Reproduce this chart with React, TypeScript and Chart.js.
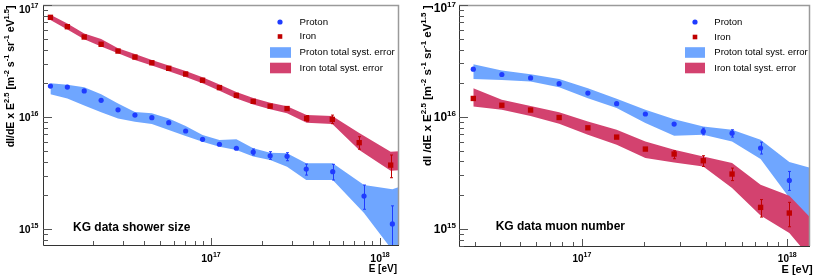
import React, { useEffect, useRef } from "react";
import { Chart, registerables } from "chart.js";
Chart.register(...registerables);

// ---------------- Left panel: KG data shower size ----------------
const L_PROTON_E = [1.122e16, 1.413e16, 1.778e16, 2.239e16, 2.818e16, 3.548e16, 4.467e16, 5.623e16, 7.079e16, 8.913e16, 1.122e17, 1.413e17, 1.778e17, 2.239e17, 2.818e17, 3.66e17, 5.25e17, 8.04e17, 1.183e18];
const L_PROTON_F = [1.89e16, 1.85e16, 1.71e16, 1.41e16, 1.16e16, 1.04e16, 9.86e15, 8.9e15, 7.5e15, 6.32e15, 5.71e15, 5.26e15, 4.87e15, 4.51e15, 4.46e15, 3.43e15, 3.25e15, 1.97e15, 1.11e15];
const L_PROTON_ERR_HI = [null, null, null, null, null, null, null, null, null, null, null, null, 5.18e15, 4.9e15, 4.8e15, 3.8e15, 3.78e15, 2.47e15, 1.61e15];
const L_PROTON_ERR_LO = [null, null, null, null, null, null, null, null, null, null, null, null, 4.58e15, 4.19e15, 4.07e15, 3.03e15, 2.74e15, 1.5e15, 6.5e14];

const L_IRON_E = [1.122e16, 1.413e16, 1.778e16, 2.239e16, 2.818e16, 3.548e16, 4.467e16, 5.623e16, 7.079e16, 8.913e16, 1.122e17, 1.413e17, 1.778e17, 2.239e17, 2.818e17, 3.68e17, 5.22e17, 7.53e17, 1.156e18];
const L_IRON_F = [7.76e16, 6.4e16, 5.18e16, 4.46e16, 3.88e16, 3.43e16, 3.05e16, 2.72e16, 2.42e16, 2.13e16, 1.83e16, 1.56e16, 1.38e16, 1.25e16, 1.19e16, 9.73e15, 9.53e15, 5.9e15, 3.72e15];
const L_IRON_ERR_HI = [null, null, null, null, null, null, null, null, null, null, null, null, null, null, null, 1.03e16, 1.04e16, 6.67e15, 4.58e15];
const L_IRON_ERR_LO = [null, null, null, null, null, null, null, null, null, null, null, null, null, null, null, 9.17e15, 8.72e15, 5.16e15, 2.87e15];

const L_PROTON_BAND_E = [1.122e16, 1.413e16, 1.778e16, 2.239e16, 2.818e16, 3.548e16, 4.467e16, 5.623e16, 7.079e16, 8.913e16, 1.122e17, 1.413e17, 1.778e17, 2.239e17, 2.818e17, 3.66e17, 5.25e17, 8.04e17, 1.183e18, 1.585e18];
const L_PROTON_BAND_UP = [2.0e16, 1.94e16, 1.84e16, 1.6e16, 1.32e16, 1.11e16, 1.08e16, 9.72e15, 8.32e15, 6.9e15, 6.24e15, 6.32e15, 5.25e15, 4.8e15, 4.74e15, 3.86e15, 3.86e15, 2.47e15, 2.26e15, 2.63e15];
const L_PROTON_BAND_LO = [1.6e16, 1.46e16, 1.27e16, 1.1e16, 9.72e15, 9.08e15, 8.67e15, 7.66e15, 6.76e15, 6.01e15, 5.43e15, 5.07e15, 4.43e15, 4.13e15, 3.6e15, 2.74e15, 2.74e15, 1.39e15, 6.46e14, 5.25e14];

const L_IRON_BAND_E = [1.122e16, 1.413e16, 1.778e16, 2.239e16, 2.818e16, 3.548e16, 4.467e16, 5.623e16, 7.079e16, 8.913e16, 1.122e17, 1.413e17, 1.778e17, 2.239e17, 2.818e17, 3.68e17, 5.22e17, 7.53e17, 1.156e18, 1.585e18];
const L_IRON_BAND_UP = [8.18e16, 6.84e16, 5.58e16, 4.97e16, 4.1e16, 3.66e16, 3.23e16, 2.88e16, 2.58e16, 2.26e16, 1.95e16, 1.67e16, 1.48e16, 1.34e16, 1.25e16, 1.04e16, 1.02e16, 7.19e15, 4.9e15, 5.01e15];
const L_IRON_BAND_LO = [7.35e16, 6.04e16, 4.94e16, 4.25e16, 3.71e16, 3.23e16, 2.88e16, 2.56e16, 2.28e16, 2.0e16, 1.72e16, 1.46e16, 1.29e16, 1.17e16, 1.08e16, 8.89e15, 8.67e15, 5.07e15, 3.32e15, 3.39e15];

// ---------------- Right panel: KG data muon number ----------------
const R_E = [2.958e16, 4.074e16, 5.623e16, 7.745e16, 1.069e17, 1.476e17, 2.037e17, 2.812e17, 3.899e17, 5.383e17, 7.413e17, 1.023e18];
const R_PROTON_F = [2.67e16, 2.39e16, 2.23e16, 1.98e16, 1.63e16, 1.31e16, 1.06e16, 8.61e15, 7.4e15, 7.15e15, 5.26e15, 2.7e15];
const R_PROTON_ERR_HI = [null, null, null, null, null, null, null, null, 7.92e15, 7.66e15, 5.94e15, 3.25e15];
const R_PROTON_ERR_LO = [null, null, null, null, null, null, null, null, 6.9e15, 6.59e15, 4.65e15, 2.2e15];
const R_IRON_F = [1.46e16, 1.27e16, 1.15e16, 9.86e15, 7.98e15, 6.59e15, 5.15e15, 4.65e15, 4.05e15, 3.08e15, 1.55e15, 1.38e15];
const R_IRON_ERR_HI = [null, null, null, null, null, null, null, 4.97e15, 4.49e15, 3.48e15, 1.82e15, 1.72e15];
const R_IRON_ERR_LO = [null, null, null, null, null, null, null, 4.22e15, 3.6e15, 2.69e15, 1.27e15, 1.04e15];

const R_BAND_E = [2.958e16, 4.074e16, 5.623e16, 7.745e16, 1.069e17, 1.476e17, 2.037e17, 2.812e17, 3.899e17, 5.383e17, 7.413e17, 1.023e18, 1.585e18];
const R_PROTON_BAND_UP = [2.96e16, 2.59e16, 2.4e16, 2.18e16, 1.8e16, 1.45e16, 1.16e16, 9.53e15, 8.19e15, 7.66e15, 6.24e15, 3.94e15, 3.15e15];
const R_PROTON_BAND_LO = [2.18e16, 2.14e16, 2.07e16, 1.84e16, 1.47e16, 1.2e16, 8.79e15, 6.76e15, 6.9e15, 6.01e15, 4.19e15, 1.89e15, 5.28e14];
const R_IRON_BAND_UP = [1.8e16, 1.42e16, 1.25e16, 1.1e16, 9.08e15, 7.66e15, 6.01e15, 5.07e15, 4.43e15, 3.86e15, 2.47e15, 1.97e15, 8.57e14];
const R_IRON_BAND_LO = [1.24e16, 1.16e16, 1.02e16, 8.67e15, 6.9e15, 5.62e15, 4.28e15, 3.91e15, 3.6e15, 2.31e15, 1.31e15, 9.17e14, 3.51e14];

// ---------------- Axes ----------------
const L_X_RANGE = [1.014e16, 1.295e18];
const R_X_RANGE = [2.52e16, 1.29e18];
const L_Y_RANGE = [7.2e14, 1e17];
const R_Y_RANGE = [7.0e14, 1e17];
const X_DECADE_LABELS = [17, 18];
const Y_DECADE_LABELS = [15, 16, 17];

const LEGEND_LABELS = ["Proton", "Iron", "Proton total syst. error", "Iron total syst. error"];
const L_PANEL_TEXT = "KG data shower size";
const R_PANEL_TEXT = "KG data muon number";
const L_Y_TITLE = [
  { t: "dI/dE x E" }, { t: "2.5", sup: true }, { t: " [m" }, { t: "-2", sup: true },
  { t: " s" }, { t: "-1", sup: true }, { t: " sr" }, { t: "-1", sup: true },
  { t: " eV" }, { t: "1.5", sup: true }, { t: "]" },
];
const R_Y_TITLE = [
  { t: "dI /dE x E" }, { t: "2.5", sup: true }, { t: " [m" }, { t: "-2", sup: true },
  { t: " s" }, { t: "-1", sup: true }, { t: " sr" }, { t: "-1", sup: true },
  { t: " eV" }, { t: "1.5", sup: true }, { t: " ]" },
];
const X_TITLE = "E [eV]";

const FONT = "'Liberation Sans', Arial, Helvetica, sans-serif";
const PROTON_COLOR = "#1f3cff";
const IRON_COLOR = "#c00000";
const PROTON_BAND = "#6fa6ff";
const IRON_BAND = "#d3426f";

type Seg = { t: string; sup?: boolean };

function richWidth(ctx: CanvasRenderingContext2D, segs: Seg[], size: number, sup: number) {
  let w = 0;
  for (const s of segs) {
    ctx.font = `bold ${s.sup ? sup : size}px ${FONT}`;
    w += ctx.measureText(s.t).width;
  }
  return w;
}
function drawRich(ctx: CanvasRenderingContext2D, segs: Seg[], x: number, y: number, size: number, sup: number, rise: number) {
  let cx = x;
  ctx.textBaseline = "alphabetic";
  ctx.textAlign = "left";
  for (const s of segs) {
    ctx.font = `bold ${s.sup ? sup : size}px ${FONT}`;
    ctx.fillText(s.t, cx, s.sup ? y - rise : y);
    cx += ctx.measureText(s.t).width;
  }
}

type PanelCfg = {
  xRange: number[]; yRange: number[];
  padding: { left: number; right: number; top: number; bottom: number };
  protonE: number[]; protonF: number[]; protonHi: (number | null)[]; protonLo: (number | null)[];
  ironE: number[]; ironF: number[]; ironHi: (number | null)[]; ironLo: (number | null)[];
  pBandE: number[]; pBandUp: number[]; pBandLo: number[];
  iBandE: number[]; iBandUp: number[]; iBandLo: number[];
  yTitle: Seg[]; yTitleSize: number; yTitleSup: number; yTitleX: number;
  yLabSize: number; yLabSup: number; yLabRight: number; yLabMinCenter: number;
  xLabSize: number; xLabSup: number; xLabBase: number;
  xTitleSize: number; xTitleRight: number; xTitleBase: number;
  legend: { mx: number; bx: number; bw: number; tx: number; rows: number[]; size: number };
  text: string; textX: number; textY: number;
};

function pts(xs: number[], ys: number[]) {
  return xs.map((x, i) => ({ x, y: ys[i] }));
}

function makeDeco(p: PanelCfg) {
  const drawErrors = (chart: any) => {
    const ctx: CanvasRenderingContext2D = chart.ctx;
    const { left, right, top, bottom } = chart.chartArea;
    const xs = chart.scales.x, ys = chart.scales.y;
    ctx.save();
    ctx.beginPath();
    ctx.rect(left, top, right - left, bottom - top);
    ctx.clip();
    const one = (E: number[], hi: (number | null)[], lo: (number | null)[], color: string) => {
      ctx.strokeStyle = color;
      ctx.lineWidth = 1;
      E.forEach((e, i) => {
        const h = hi[i], l = lo[i];
        if (h == null || l == null) return;
        const x = Math.round(xs.getPixelForValue(e)) + 0.5;
        const y1 = ys.getPixelForValue(h), y2 = ys.getPixelForValue(l);
        ctx.beginPath();
        ctx.moveTo(x, y1); ctx.lineTo(x, y2);
        ctx.moveTo(x - 1.5, y1); ctx.lineTo(x + 1.5, y1);
        ctx.moveTo(x - 1.5, y2); ctx.lineTo(x + 1.5, y2);
        ctx.stroke();
      });
    };
    one(p.ironE, p.ironHi, p.ironLo, IRON_COLOR);
    one(p.protonE, p.protonHi, p.protonLo, PROTON_COLOR);
    ctx.restore();
  };
  return {
    id: "deco",
    beforeDatasetDraw(chart: any, args: any) {
      if (args.index === 1) drawErrors(chart);
    },
    afterDraw(chart: any) {
      const ctx: CanvasRenderingContext2D = chart.ctx;
      const { left, right, top, bottom } = chart.chartArea;
      const xs = chart.scales.x, ys = chart.scales.y;
      ctx.save();
      // frame
      ctx.strokeStyle = "#9a9a9a";
      ctx.lineWidth = 1.5;
      ctx.beginPath();
      ctx.moveTo(left, top + 0.5); ctx.lineTo(right - 0.5, top + 0.5); ctx.lineTo(right - 0.5, bottom);
      ctx.stroke();
      ctx.strokeStyle = "#333";
      ctx.lineWidth = 1;
      ctx.beginPath();
      ctx.moveTo(left + 0.5, top); ctx.lineTo(left + 0.5, bottom + 0.5); ctx.lineTo(right, bottom + 0.5);
      ctx.stroke();
      // ticks
      ctx.strokeStyle = "#555";
      ctx.beginPath();
      for (let d = 14; d <= 18; d++) {
        for (let m = 1; m <= 9; m++) {
          const v = m * Math.pow(10, d);
          if (v >= p.yRange[0] && v <= p.yRange[1] * 1.0001) {
            const y = Math.round(ys.getPixelForValue(v)) + 0.5;
            ctx.moveTo(left, y); ctx.lineTo(left + (m === 1 ? 9 : 5), y);
          }
          if (v >= p.xRange[0] && v <= p.xRange[1]) {
            const x = Math.round(xs.getPixelForValue(v)) + 0.5;
            ctx.moveTo(x, bottom); ctx.lineTo(x, bottom - (m === 1 ? 7 : 4));
          }
        }
      }
      ctx.stroke();
      ctx.fillStyle = "#000";
      // y labels
      for (const d of Y_DECADE_LABELS) {
        const segs = [{ t: "10" }, { t: String(d), sup: true }];
        const w = richWidth(ctx, segs, p.yLabSize, p.yLabSup);
        const cy = Math.max(ys.getPixelForValue(Math.pow(10, d)), p.yLabMinCenter);
        drawRich(ctx, segs, p.yLabRight - w, cy + p.yLabSize * 0.36, p.yLabSize, p.yLabSup, p.yLabSize * 0.42);
      }
      // x labels
      for (const d of X_DECADE_LABELS) {
        const segs = [{ t: "10" }, { t: String(d), sup: true }];
        const w = richWidth(ctx, segs, p.xLabSize, p.xLabSup);
        const cx = xs.getPixelForValue(Math.pow(10, d));
        drawRich(ctx, segs, cx - w / 2, p.xLabBase, p.xLabSize, p.xLabSup, p.xLabSize * 0.5);
      }
      // x title
      ctx.font = `bold ${p.xTitleSize}px ${FONT}`;
      ctx.textAlign = "right";
      ctx.textBaseline = "alphabetic";
      ctx.fillText(X_TITLE, p.xTitleRight, p.xTitleBase);
      // y title (rotated)
      const tw = richWidth(ctx, p.yTitle, p.yTitleSize, p.yTitleSup);
      ctx.save();
      ctx.translate(p.yTitleX, 5.5);
      ctx.rotate(-Math.PI / 2);
      drawRich(ctx, p.yTitle, -tw, 0, p.yTitleSize, p.yTitleSup, p.yTitleSize * 0.42);
      ctx.restore();
      // legend
      const L = p.legend;
      ctx.fillStyle = PROTON_COLOR;
      ctx.beginPath();
      ctx.arc(L.mx, L.rows[0], 2.6, 0, Math.PI * 2);
      ctx.fill();
      ctx.fillStyle = IRON_COLOR;
      ctx.fillRect(L.mx - 2.3, L.rows[1] - 2.3, 4.6, 4.6);
      ctx.fillStyle = PROTON_BAND;
      ctx.fillRect(L.bx, L.rows[2] - 5.3, L.bw, 10.6);
      ctx.fillStyle = IRON_BAND;
      ctx.fillRect(L.bx, L.rows[3] - 5.3, L.bw, 10.6);
      ctx.fillStyle = "#000";
      ctx.font = `${L.size}px ${FONT}`;
      ctx.textAlign = "left";
      ctx.textBaseline = "middle";
      LEGEND_LABELS.forEach((s, i) => ctx.fillText(s, L.tx, L.rows[i]));
      // panel text
      ctx.font = `bold 12px ${FONT}`;
      ctx.fillText(p.text, p.textX, p.textY);
      ctx.restore();
    },
  };
}

function buildConfig(p: PanelCfg): any {
  const band = (E: number[], Y: number[], color: string, fill: any) => ({
    data: pts(E, Y),
    borderWidth: 0,
    borderColor: "rgba(0,0,0,0)",
    backgroundColor: color,
    pointRadius: 0,
    fill,
    tension: 0,
  });
  return {
    type: "line",
    data: {
      datasets: [
        { data: pts(p.protonE, p.protonF), showLine: false, pointStyle: "circle", pointRadius: 2.6, pointBackgroundColor: PROTON_COLOR, pointBorderWidth: 0, borderColor: PROTON_COLOR },
        { data: pts(p.ironE, p.ironF), showLine: false, pointStyle: "rect", pointRadius: 3.8, pointBackgroundColor: IRON_COLOR, pointBorderWidth: 0, borderColor: IRON_COLOR },
        band(p.iBandE, p.iBandUp, IRON_BAND, "+1"),
        band(p.iBandE, p.iBandLo, IRON_BAND, false),
        band(p.pBandE, p.pBandUp, PROTON_BAND, "+1"),
        band(p.pBandE, p.pBandLo, PROTON_BAND, false),
      ],
    },
    options: {
      responsive: false,
      animation: false,
      devicePixelRatio: 1,
      layout: { padding: p.padding },
      plugins: { legend: { display: false }, tooltip: { enabled: false } },
      scales: {
        x: { type: "logarithmic", min: p.xRange[0], max: p.xRange[1], display: false },
        y: { type: "logarithmic", min: p.yRange[0], max: p.yRange[1], display: false },
      },
    },
    plugins: [makeDeco(p)],
  };
}

const LEFT: PanelCfg = {
  xRange: L_X_RANGE, yRange: L_Y_RANGE,
  padding: { left: 43, right: 8, top: 5, bottom: 30 },
  protonE: L_PROTON_E, protonF: L_PROTON_F, protonHi: L_PROTON_ERR_HI, protonLo: L_PROTON_ERR_LO,
  ironE: L_IRON_E, ironF: L_IRON_F, ironHi: L_IRON_ERR_HI, ironLo: L_IRON_ERR_LO,
  pBandE: L_PROTON_BAND_E, pBandUp: L_PROTON_BAND_UP, pBandLo: L_PROTON_BAND_LO,
  iBandE: L_IRON_BAND_E, iBandUp: L_IRON_BAND_UP, iBandLo: L_IRON_BAND_LO,
  yTitle: L_Y_TITLE, yTitleSize: 10.5, yTitleSup: 7.5, yTitleX: 13.5,
  yLabSize: 10.5, yLabSup: 7, yLabRight: 38.5, yLabMinCenter: 8.8,
  xLabSize: 10.5, xLabSup: 7, xLabBase: 262,
  xTitleSize: 10, xTitleRight: 397, xTitleBase: 272,
  legend: { mx: 280, bx: 270, bw: 21, tx: 299.5, rows: [22, 36.5, 52.5, 68], size: 9.7 },
  text: L_PANEL_TEXT, textX: 73, textY: 228,
};

const RIGHT: PanelCfg = {
  xRange: R_X_RANGE, yRange: R_Y_RANGE,
  padding: { left: 52, right: 1, top: 5, bottom: 29 },
  protonE: R_E, protonF: R_PROTON_F, protonHi: R_PROTON_ERR_HI, protonLo: R_PROTON_ERR_LO,
  ironE: R_E, ironF: R_IRON_F, ironHi: R_IRON_ERR_HI, ironLo: R_IRON_ERR_LO,
  pBandE: R_BAND_E, pBandUp: R_PROTON_BAND_UP, pBandLo: R_PROTON_BAND_LO,
  iBandE: R_BAND_E, iBandUp: R_IRON_BAND_UP, iBandLo: R_IRON_BAND_LO,
  yTitle: R_Y_TITLE, yTitleSize: 11.5, yTitleSup: 8, yTitleX: 24.3,
  yLabSize: 12, yLabSup: 8, yLabRight: 49, yLabMinCenter: 7.5,
  xLabSize: 10, xLabSup: 7, xLabBase: 261.5,
  xTitleSize: 11, xTitleRight: 405.7, xTitleBase: 273,
  legend: { mx: 288, bx: 278, bw: 20, tx: 307.3, rows: [22, 37, 52.5, 68], size: 9.5 },
  text: R_PANEL_TEXT, textX: 88.7, textY: 226.7,
};

function Panel({ cfg, left }: { cfg: PanelCfg; left: number }) {
  const ref = useRef<HTMLCanvasElement | null>(null);
  useEffect(() => {
    if (!ref.current) return;
    const chart = new Chart(ref.current, buildConfig(cfg));
    return () => chart.destroy();
  }, [cfg]);
  return (
    <canvas
      ref={ref}
      width={407}
      height={275}
      style={{ position: "absolute", left, top: 0, width: 407, height: 275 }}
    />
  );
}

export default function App() {
  return (
    <div style={{ position: "absolute", left: 0, top: 0, width: 814, height: 275, background: "#fff", overflow: "hidden" }}>
      <Panel cfg={LEFT} left={0} />
      <Panel cfg={RIGHT} left={407} />
    </div>
  );
}
